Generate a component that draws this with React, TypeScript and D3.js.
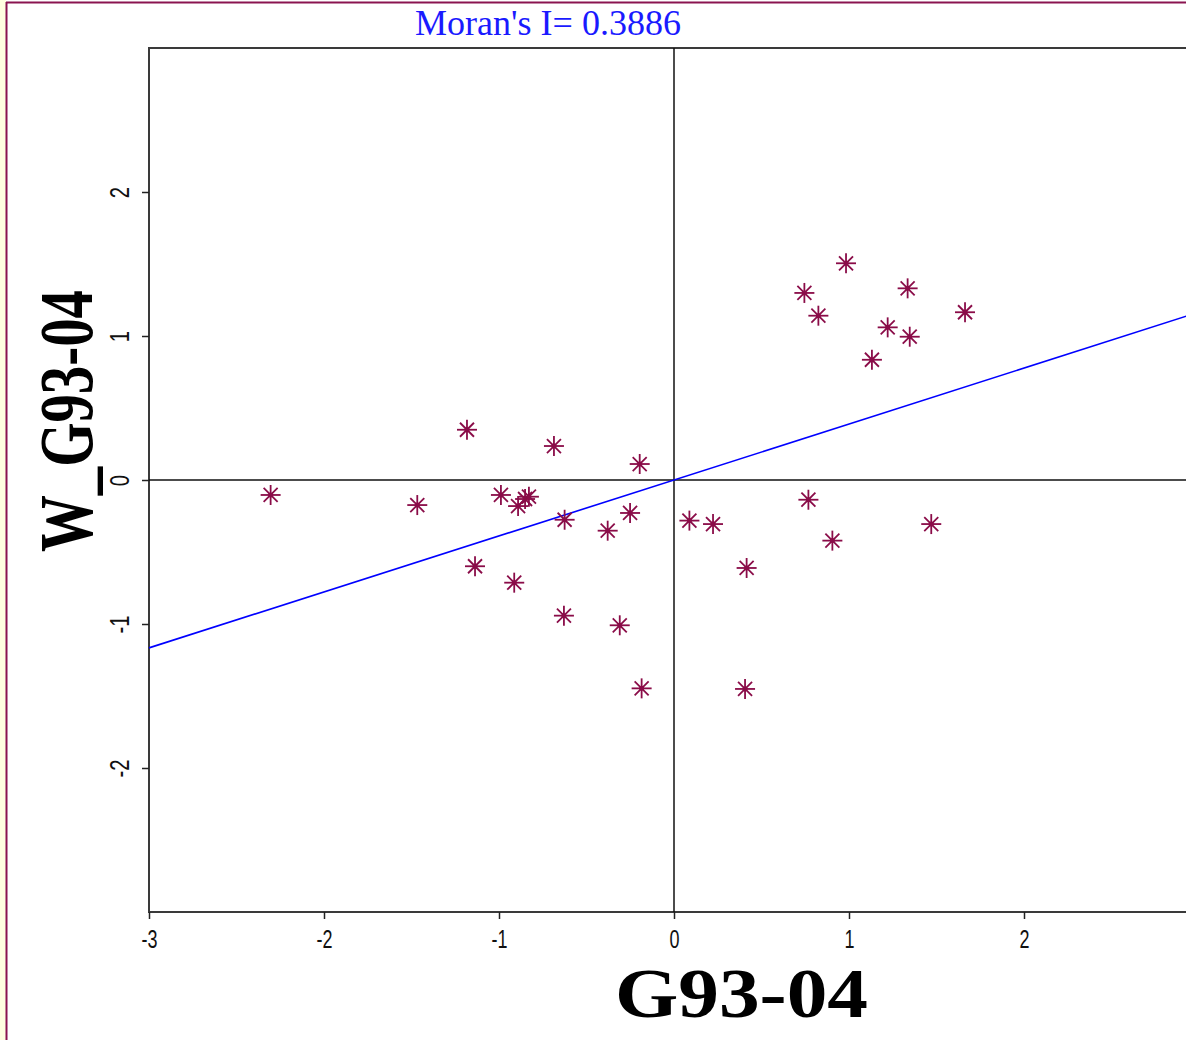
import React, { useRef, useEffect } from "react";
import * as d3 from "d3";

// Moran scatter plot: standardized G93-04 vs its spatial lag W_G93-04
const xValues = [
  -2.305, -1.467, -1.183, -1.137, -0.989, -0.913, -0.891, -0.851, -0.829, -0.686,
  -0.625, -0.629, -0.379, -0.310, -0.251, -0.196, -0.185, 0.088, 0.223, 0.415,
  0.406, 0.768, 0.905, 1.470, 0.745, 0.825, 0.983, 1.131, 1.221, 1.335, 1.347, 1.663,
];
const yValues = [
  -0.104, -0.174, 0.349, -0.599, -0.104, -0.713, -0.181, -0.132, -0.116, 0.236,
  -0.276, -0.942, -0.352, -1.009, -0.229, 0.111, -1.447, -0.282, -0.306, -0.611,
  -1.451, -0.137, -0.421, -0.306, 1.299, 1.141, 1.505, 0.835, 1.060, 1.331, 0.995, 1.165,
];
const xTicks = [-3, -2, -1, 0, 1, 2];
const yTicks = [-2, -1, 0, 1, 2];
const moranI = 0.3886;
const xLabel = "G93-04";
const yLabel = "W_G93-04";

const W = 1186;
const H = 1040;
const markColor = "#8a0c48";

export default function App() {
  const xAxisRef = useRef<SVGGElement>(null);
  const yAxisRef = useRef<SVGGElement>(null);

  const x = d3.scaleLinear().domain([-3, 3]).range([149, 1199]);
  const y = d3.scaleLinear().domain([-3, 3]).range([912, 48]);

  useEffect(() => {
    const fmt = (d: any) => String(d);
    const gx = d3.select(xAxisRef.current as SVGGElement);
    gx.call(d3.axisBottom(x).tickValues(xTicks).tickSize(7).tickSizeOuter(0).tickFormat(fmt));
    gx.select(".domain").remove();
    gx.selectAll(".tick line").attr("stroke", "#222").attr("stroke-width", 1.5);
    gx.selectAll(".tick text")
      .attr("font-family", "'Liberation Sans', Arial, sans-serif")
      .attr("font-size", 25)
      .attr("fill", "#111")
      .attr("y", 0)
      .attr("dy", 0)
      .attr("transform", "translate(0,36) scale(0.72,1)");

    const gy = d3.select(yAxisRef.current as SVGGElement);
    gy.call(d3.axisLeft(y).tickValues(yTicks).tickSize(7).tickSizeOuter(0).tickFormat(fmt));
    gy.select(".domain").remove();
    gy.selectAll(".tick line").attr("stroke", "#222").attr("stroke-width", 1.5);
    gy.selectAll(".tick text")
      .attr("font-family", "'Liberation Sans', Arial, sans-serif")
      .attr("font-size", 27)
      .attr("fill", "#111")
      .attr("x", 0)
      .attr("dy", 0)
      .attr("text-anchor", "middle")
      .attr("transform", "translate(-20,0) rotate(-90) scale(0.75,1)");
  }, []);

  const fitLine = d3
    .line<number>()
    .x((d) => x(d))
    .y((d) => y(d * moranI));

  const points = xValues.map((v, i) => [v, yValues[i]]);

  return (
    <svg
      width={W}
      height={H}
      style={{ position: "absolute", left: 0, top: 0, display: "block", background: "#fff" }}
    >
      {/* window frame */}
      <rect x={0} y={0} width={6} height={H} fill="#ffffe0" />
      <line x1={6.5} y1={2} x2={6.5} y2={H} stroke="#8a1450" strokeWidth={2} />
      <line x1={6} y1={2.5} x2={W} y2={2.5} stroke="#8a1450" strokeWidth={2} />

      <text
        x={415}
        y={35}
        fontFamily="'Liberation Serif', 'Times New Roman', serif"
        fontSize={35}
        fill="#1a1aff"
        textLength={266}
        lengthAdjust="spacingAndGlyphs"
      >
        Moran's I= 0.3886
      </text>

      {/* plot frame */}
      <rect
        x={x(-3)}
        y={y(3)}
        width={x(3) - x(-3)}
        height={y(-3) - y(3)}
        fill="none"
        stroke="#3a3a3a"
        strokeWidth={2}
      />
      <line x1={x(0)} y1={y(3)} x2={x(0)} y2={y(-3)} stroke="#111" strokeWidth={1.5} />
      <line x1={x(-3)} y1={y(0)} x2={x(3)} y2={y(0)} stroke="#111" strokeWidth={1.5} />

      <g ref={xAxisRef} transform={`translate(0,${y(-3)})`} />
      <g ref={yAxisRef} transform={`translate(${x(-3)},0)`} />

      <path d={fitLine([-3, 3]) || ""} fill="none" stroke="#0000ff" strokeWidth={1.6} />

      {points.map(([px, py], i) => (
        <g key={i} transform={`translate(${x(px)},${y(py)})`} stroke={markColor} strokeWidth={1.8}>
          <line x1={-10} y1={0} x2={10} y2={0} />
          <line x1={0} y1={-10} x2={0} y2={10} />
          <line x1={-7} y1={-7} x2={7} y2={7} />
          <line x1={-7} y1={7} x2={7} y2={-7} />
          <circle r={2.5} fill={markColor} stroke="none" />
        </g>
      ))}

      <text
        x={615}
        y={1017}
        fontFamily="'Liberation Serif', 'Times New Roman', serif"
        fontWeight="bold"
        fontSize={70}
        fill="#000"
        textLength={253}
        lengthAdjust="spacingAndGlyphs"
      >
        {xLabel}
      </text>

      <text
        transform="translate(92,552) rotate(-90)"
        fontFamily="'Liberation Serif', 'Times New Roman', serif"
        fontWeight="bold"
        fontSize={76}
        fill="#000"
        textLength={262}
        lengthAdjust="spacingAndGlyphs"
      >
        {yLabel}
      </text>
    </svg>
  );
}
